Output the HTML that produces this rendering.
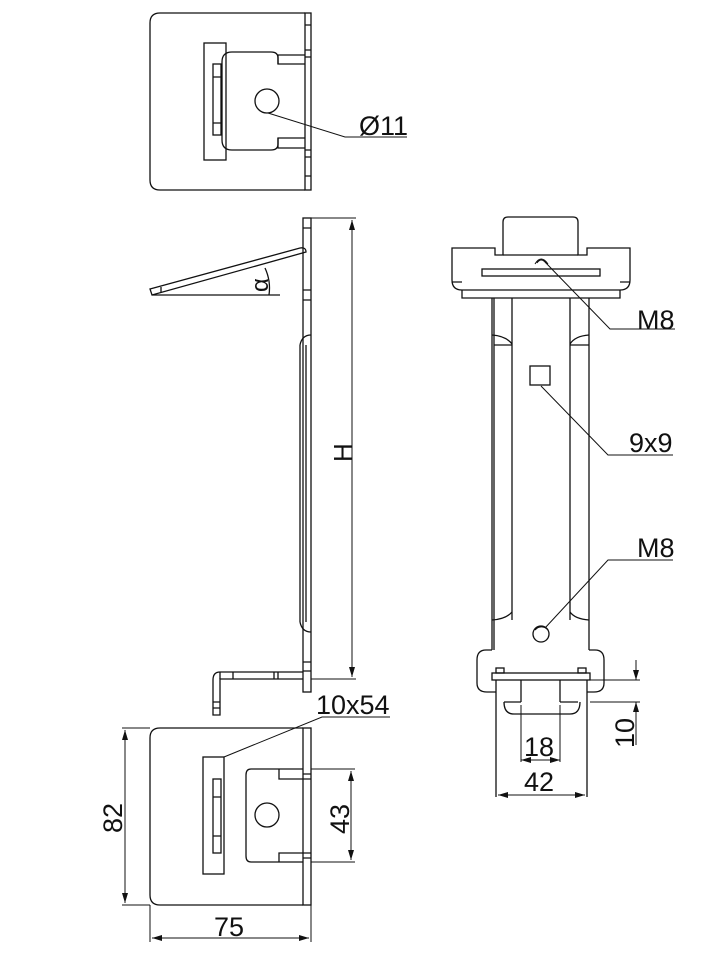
<!DOCTYPE html>
<html><head><meta charset="utf-8"><style>
html,body{margin:0;padding:0;background:#fff}
svg{display:block}
text{font-family:"Liberation Sans",sans-serif;fill:#111}
</style></head><body>
<svg width="715" height="956" viewBox="0 0 715 956" xmlns="http://www.w3.org/2000/svg">
<defs>
<marker id="a" viewBox="0 0 10 6" refX="10" refY="3" markerWidth="10" markerHeight="6" orient="auto-start-reverse" markerUnits="userSpaceOnUse">
<path d="M0,0 L10,3 L0,6 z" fill="#111"/></marker>
</defs>
<g fill="none" stroke="#111" stroke-width="1.3">
<!-- TOP VIEW -->
<path d="M305,13 H160 Q150,13 150,23 V180 Q150,190 160,190 H305"/>
<rect x="305" y="13" width="6" height="177"/>
<path d="M305,25H311M305,50H311M305,57H311M305,150H311M305,157H311M305,176H311"/>
<rect x="204" y="43" width="22" height="117"/>
<rect x="213" y="64" width="8" height="71"/>
<path d="M213,77H221M213,123H221"/>
<path d="M305,64 H278 V58 Q278,52 271,52 H232 Q222,52 222,62 V140 Q222,150 232,150 H271 Q278,150 278,144 V138 H305"/>
<path d="M278,64 V55 H305 M278,138 V148 H305"/>
<circle cx="267" cy="101" r="12"/>
<path d="M268,113 L345,137 H407" stroke-width="1"/>

<!-- SIDE VIEW -->
<rect x="303" y="218" width="8" height="474"/>
<path d="M303,228H311M303,290H311M303,300H311M303,662H311M303,671H311"/>
<path d="M300,345 V622 M306,345 V622 M300,345 Q302,335 311,335 M300,622 Q302,632 311,632"/>
<path d="M150,289 L300,248 Q306,247 306,252 L152,295 Z"/>
<path d="M161,287 V293"/>
<path d="M152,295 H280"/>
<path d="M265,268 A48,48 0 0 1 269,295"/>
<path d="M311,218 H356 M311,679 H356" stroke-width="1"/>
<path d="M352,220 V677" stroke-width="1" marker-start="url(#a)" marker-end="url(#a)"/>
<path d="M303,672 H220 Q213,672 213,680 V715 H220 V679 H303"/>
<path d="M220,672V679M233,672V679M274,672V679M278,672V679M213,702H220M213,708H220"/>

<!-- FRONT VIEW (right) -->
<path d="M452,248 H495 V255 H503 V222 Q503,217 508,217 H573 Q578,217 578,222 V255 H587 V248 H630 V280 Q630,290 620,290 H462 Q452,290 452,280 Z"/>
<path d="M503,255 H578"/>
<rect x="482" y="269" width="118" height="7"/>
<path d="M462,290 V298 H620 V290 M452,282 H462 M620,282 H630"/>
<path d="M537,263 Q541,257 546,263 M535,264 Q541,254 548,264" stroke-width="1"/>
<path d="M492,298 V650 M494,298 V650 M512,298 V620 M570,298 V620 M589,298 V650"/>
<path d="M492,335 Q506,336 512,344 M589,335 Q575,336 570,344 M494,345H512 M570,345H589"/>
<path d="M492,620 Q506,619 512,612 M589,620 Q575,619 570,612"/>
<rect x="530" y="366" width="20" height="19"/>
<circle cx="541" cy="634" r="8"/>
<path d="M535,630 A8,8 0 0 1 548,630" />
<path d="M492,650 H486 Q477,650 477,660 V683 Q477,692 487,692 H496 M589,650 H595 Q604,650 604,660 V683 Q604,692 594,692 H587"/>
<rect x="492" y="673" width="98" height="7"/>
<rect x="496" y="668" width="8" height="5"/><rect x="578" y="668" width="8" height="5"/>
<path d="M496,680 V797 M587,680 V797"/>
<path d="M521,680 V702 M560,680 V702 M504,702 H521 M560,702 H578 M504,702 Q504,714 514,714 H570 Q580,714 580,702"/>
<path d="M521,705 V762 M560,705 V762" stroke-width="1"/>
<path d="M521,760 H560" stroke-width="1" marker-start="url(#a)" marker-end="url(#a)"/>
<path d="M498,795 H585" stroke-width="1" marker-start="url(#a)" marker-end="url(#a)"/>
<path d="M590,680 H640 M590,702 H640" stroke-width="1"/>
<path d="M636,660 V680" stroke-width="1" marker-end="url(#a)"/>
<path d="M636,745 V702" stroke-width="1" marker-end="url(#a)"/>
<path d="M545,262 L610,329 H675" stroke-width="1"/>
<path d="M541,386 L608,455 H673" stroke-width="1"/>
<path d="M545,628 L608,560 H673" stroke-width="1"/>

<!-- BOTTOM VIEW -->
<path d="M303,728 H160 Q150,728 150,738 V895 Q150,905 160,905 H303"/>
<rect x="303" y="728" width="8" height="177"/>
<rect x="203" y="757" width="21" height="117"/>
<rect x="213" y="779" width="8" height="74"/>
<path d="M213,797H221M213,836H221"/>
<path d="M303,769 H251 Q246,769 246,775 V856 Q246,862 251,862 H303"/>
<path d="M279,769 V779 H303 M279,862 V853 H303 M303,779H311M303,774H311M303,853H311M303,858H311"/>
<circle cx="267" cy="815" r="12"/>
<path d="M224,757 L322,717 H390" stroke-width="1"/>
<path d="M122,728 H150 M122,905 H150" stroke-width="1"/>
<path d="M125,730 V903" stroke-width="1" marker-start="url(#a)" marker-end="url(#a)"/>
<path d="M150,905 V942 M311,905 V942" stroke-width="1"/>
<path d="M152,938 H309" stroke-width="1" marker-start="url(#a)" marker-end="url(#a)"/>
<path d="M311,769 H355 M311,862 H355" stroke-width="1"/>
<path d="M351,771 V860" stroke-width="1" marker-start="url(#a)" marker-end="url(#a)"/>
</g>
<g font-size="27">
<text x="359" y="135">Ø11</text>
<text x="637" y="329">M8</text>
<text x="629" y="452">9x9</text>
<text x="637" y="557">M8</text>
<text x="524" y="756">18</text>
<text x="524" y="791">42</text>
<text x="316" y="714">10x54</text>
<text x="214" y="936">75</text>
<text transform="translate(122,833) rotate(-90)">82</text>
<text transform="translate(349,834) rotate(-90)">43</text>
<text transform="translate(634,748) rotate(-90)">10</text>
<text transform="translate(352,462) rotate(-90)" font-size="26">H</text>
<text transform="translate(268,292) rotate(-90)" font-size="24" font-family="Liberation Serif">α</text>
</g>
</svg>
</body></html>
